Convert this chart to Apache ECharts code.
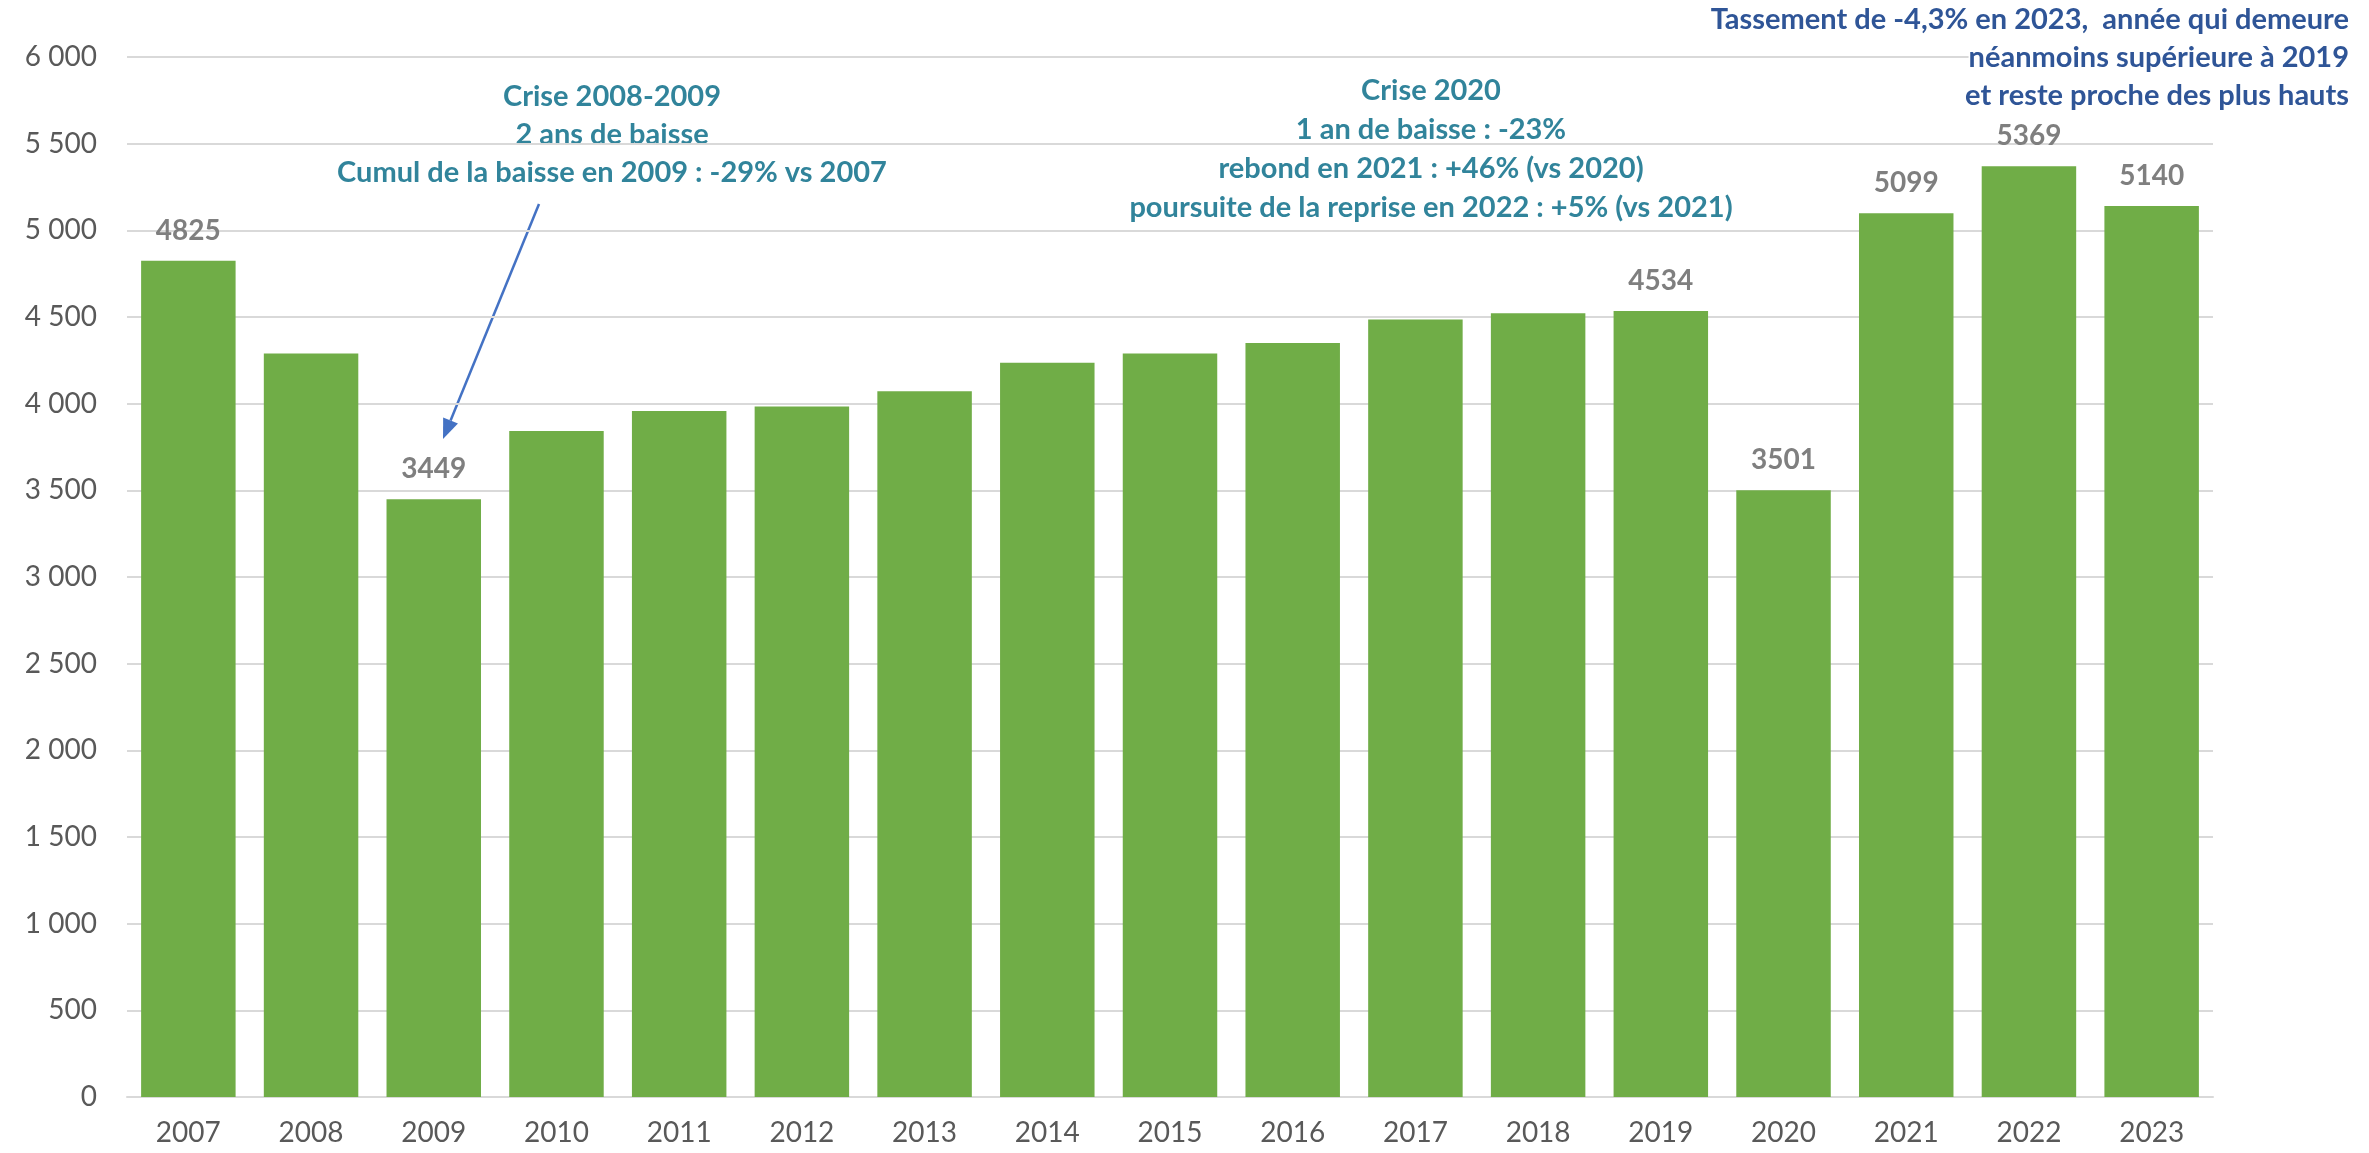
<!DOCTYPE html>
<html>
<head>
<meta charset="utf-8">
<script src="https://cdn.jsdelivr.net/npm/echarts@6/dist/echarts.min.js"></script>
<style>
html,body{margin:0;padding:0;background:#fff;}
#main{width:2369px;height:1153px;}
</style>
</head>
<body>
<div id="main"></div>
<script>
var years = ['2007','2008','2009','2010','2011','2012','2013','2014','2015','2016','2017','2018','2019','2020','2021','2022','2023'];
var values = [4825, 4290, 3449, 3842, 3957, 3983, 4071, 4236, 4290, 4350, 4485, 4521, 4534, 3501, 5099, 5369, 5140];
// annees dont la valeur est affichee
var labelYears = ['2007','2009','2019','2020','2021','2022','2023'];
var yTicks = [0, 500, 1000, 1500, 2000, 2500, 3000, 3500, 4000, 4500, 5000, 5500, 6000];

var crise2009 = ['Crise 2008-2009', '2 ans de baisse', 'Cumul de la baisse en 2009 : -29% vs 2007'];
var crise2020 = ['Crise 2020', '1 an de baisse : -23%', 'rebond en 2021 : +46% (vs 2020)', 'poursuite de la reprise en 2022 : +5% (vs 2021)'];
var note2023 = ['Tassement de -4,3% en 2023,  année qui demeure', 'néanmoins supérieure à 2019', 'et reste proche des plus hauts'];

var FONT = 'Lato, "Open Sans", sans-serif';

var barData = [];
for (var i in years) {
	barData.push({
		value: values[i],
		label: {show: labelYears.indexOf(years[i]) >= 0}
	});
}

function fmt(v){
	return String(v).replace(/\B(?=(\d{3})+(?!\d))/g, ' ');
}

// fleche 2009
var ax = 539, ay = 204, bx = 443, by = 439;
var dx = bx - ax, dy = by - ay, len = Math.sqrt(dx*dx + dy*dy);
var ux = dx/len, uy = dy/len, hl = 20, hw = 8;
var baseX = bx - ux*hl, baseY = by - uy*hl;

var graphics = [
	{
		type: 'text', x: 612, y: 78,
		style: {
			text: crise2009.join('\n'), textAlign: 'center', textVerticalAlign: 'top',
			fill: '#31849b', font: 'bold 29px ' + FONT, lineHeight: 38
		}
	},
	{
		type: 'text', x: 1431, y: 71,
		style: {
			text: crise2020.join('\n'), textAlign: 'center', textVerticalAlign: 'top',
			fill: '#31849b', font: 'bold 29px ' + FONT, lineHeight: 39
		}
	},
	{
		type: 'line',
		shape: {x1: ax, y1: ay, x2: baseX, y2: baseY},
		style: {stroke: '#4472c4', lineWidth: 2.5}
	},
	{
		type: 'polygon',
		shape: {points: [[bx, by], [baseX - uy*hw, baseY + ux*hw], [baseX + uy*hw, baseY - ux*hw]]},
		style: {fill: '#4472c4'}
	}
];
// note 2023 : une ligne par texte, fond blanc qui masque la grille
for (var k = 0; k < note2023.length; k++) {
	graphics.push({
		type: 'text', x: 2349, y: 1 + k*38, z: 10,
		style: {
			text: note2023[k], textAlign: 'right', textVerticalAlign: 'top',
			fill: '#2f5597', font: 'bold 29px ' + FONT, lineHeight: 38,
			backgroundColor: '#ffffff'
		}
	});
}

var myChart = echarts.init(document.getElementById('main'));
var option = {
	animation: false,
	backgroundColor: '#ffffff',
	grid: {left: 127, right: 156, top: 57, bottom: 56, containLabel: false},
	xAxis: {
		type: 'category',
		data: years,
		axisTick: {show: false},
		axisLine: {show: true, lineStyle: {color: '#d9d9d9', width: 2}},
		axisLabel: {color: '#595959', fontSize: 28, fontFamily: FONT, margin: 22}
	},
	yAxis: {
		type: 'value',
		min: yTicks[0],
		max: yTicks[yTicks.length - 1],
		interval: 500,
		axisLine: {show: false},
		axisTick: {show: false},
		splitLine: {lineStyle: {color: '#d9d9d9', width: 2}},
		axisLabel: {color: '#595959', fontSize: 28, fontFamily: FONT, margin: 30, formatter: fmt}
	},
	series: [{
		type: 'bar',
		data: barData,
		barCategoryGap: '23%',
		itemStyle: {color: '#70ad47'},
		label: {
			position: 'top',
			distance: 16,
			color: '#7f7f7f',
			fontWeight: 'bold',
			fontSize: 28,
			fontFamily: FONT
		}
	}],
	graphic: graphics
};
myChart.setOption(option);
</script>
</body>
</html>
